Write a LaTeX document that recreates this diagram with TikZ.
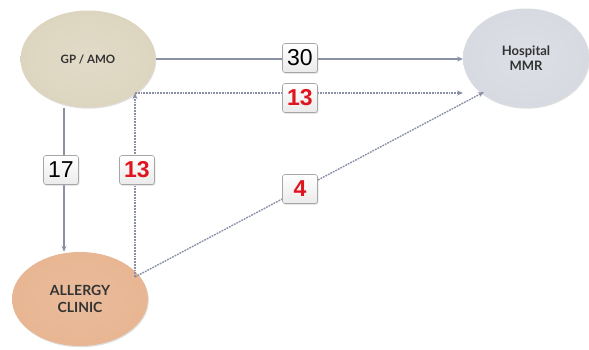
\documentclass[tikz,border=0pt]{standalone}
\usepackage{fontspec}
\setmainfont{Liberation Sans}
\newfontfamily\ellfont{Lato}
\usetikzlibrary{arrows.meta,shadows}
\definecolor{gpfill}{HTML}{DAD2BA}
\definecolor{hospfill}{HTML}{D4D7DF}
\definecolor{allfill}{HTML}{E6B08A}
\definecolor{linec}{HTML}{8A91A6}
\definecolor{numred}{HTML}{E0141E}
\tikzset{
  blob/.style={ellipse, draw=none, inner sep=0pt, text=black!80, align=center,
    drop shadow={shadow xshift=0.8pt, shadow yshift=-1.2pt, fill=black!25}},
  numbox/.style={draw=black!35, line width=0.6pt, rounded corners=2.5pt, top color=white, bottom color=black!8,
    minimum width=35pt, minimum height=29pt, inner sep=0pt, font=\fontsize{23}{23}\selectfont,
    drop shadow={shadow xshift=0.8pt, shadow yshift=-1.2pt, fill=black!30}},
  rednum/.style={numbox, text=numred, font=\fontsize{23}{23}\selectfont\bfseries},
  solidarrow/.style={draw=linec, line width=1.4pt, -{Stealth[length=6pt,width=5pt]}},
  dotarrow/.style={draw=linec, line width=1.4pt, dash pattern=on 1.8pt off 1pt, -{Stealth[length=6pt,width=5pt]}},
}
\usetikzlibrary{shapes.geometric}
\begin{document}
\begin{tikzpicture}[x=1pt,y=-1pt]
\useasboundingbox (0,0) rectangle (589,349);
\node[blob, minimum width=135pt, minimum height=97pt, inner color=gpfill!80, outer color=gpfill!100!black!93,
  font=\ellfont\bfseries\fontsize{11.5}{13}\selectfont] (gp) at (88,59) {GP / AMO};
\node[blob, minimum width=126pt, minimum height=99pt, inner color=hospfill!80, outer color=hospfill!100!black!93,
  font=\ellfont\bfseries\fontsize{13}{15.5}\selectfont] (hosp) at (526,58) {Hospital\\MMR};
\node[blob, minimum width=136pt, minimum height=94pt, inner color=allfill!85, outer color=allfill!100!black!93,
  font=\ellfont\bfseries\fontsize{14}{17}\selectfont] (all) at (80,299) {ALLERGY\\CLINIC};

\coordinate (c1) at (135,93);
\coordinate (c2) at (135,277);
\coordinate (h1) at (463,59);
\coordinate (h2) at (463,93);
\coordinate (h3) at (484,92);

\draw[solidarrow] (gp.east) -- (h1);
\draw[solidarrow] (gp.south -| 64,0) -- (all.north -| 64,0);
\draw[dotarrow] (c2) -- (c1);
\draw[dotarrow] (c1) -- (h2);
\draw[dotarrow] (c2) -- (h3);

\node[numbox] (n30) at (300,58) {30};
\node[rednum] (n13a) at (300,98) {13};
\node[numbox] (n17) at (61,170) {17};
\node[rednum] (n13b) at (137,170) {13};
\node[rednum] (n4) at (300,189) {4};
\end{tikzpicture}
\end{document}
